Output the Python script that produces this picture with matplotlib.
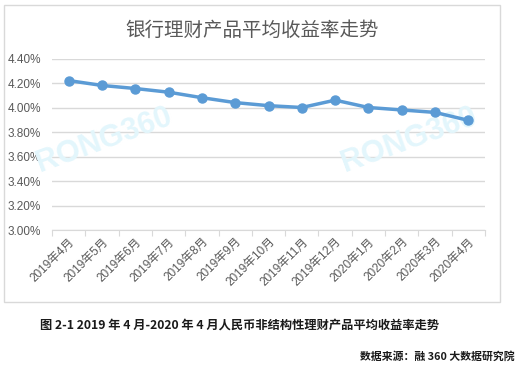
import matplotlib.pyplot as plt
from matplotlib.patches import Rectangle

plt.rcParams['font.family'] = ['Liberation Sans', 'Noto Sans CJK SC', 'DejaVu Sans']

# data
months = ['2019年4月', '2019年5月', '2019年6月', '2019年7月', '2019年8月', '2019年9月',
          '2019年10月', '2019年11月', '2019年12月', '2020年1月', '2020年2月', '2020年3月',
          '2020年4月']
rates = [4.22, 4.18, 4.155, 4.125, 4.08, 4.04, 4.015, 4.00, 4.06, 4.00, 3.98, 3.96, 3.895]
yticks = [3.0, 3.2, 3.4, 3.6, 3.8, 4.0, 4.2, 4.4]

fig = plt.figure(figsize=(5.22, 3.67), dpi=100)

# chart frame
fig.patches.append(Rectangle((4 / 522, 1 - 302 / 367), 496 / 522, 297 / 367,
                             transform=fig.transFigure, fill=False,
                             edgecolor='#d9d9d9', linewidth=1))

ax = fig.add_axes([52 / 522, 1 - 230 / 367, 433 / 522, 171.5 / 367])
ax.patch.set_alpha(0)
x = list(range(len(months)))
ax.plot(x, rates, color='#5b9bd5', linewidth=2.5, marker='o', markersize=6.5, zorder=3)

ax.set_xlim(-0.5, len(months) - 0.5)
ax.set_ylim(3.0, 4.4)
ax.set_yticks(yticks)
ax.set_yticklabels(['%.2f%%' % v for v in yticks])
ax.yaxis.grid(True, color='#d9d9d9', linewidth=1)
ax.set_axisbelow(True)
for s in ['top', 'right', 'left']:
    ax.spines[s].set_visible(False)
ax.spines['bottom'].set_color('#d9d9d9')
ax.tick_params(axis='y', length=0, pad=8, labelsize=8.5, labelcolor='#595959')

ax.set_xticks([i + 0.5 for i in range(-1, len(months))], minor=False)
ax.set_xticklabels([])
ax.tick_params(axis='x', which='major', length=4, color='#d9d9d9')
ax.set_xticks(x, minor=True)
ax.set_xticklabels(months, minor=True, rotation=45, ha='right', rotation_mode='anchor')
ax.tick_params(axis='x', which='minor', length=0, pad=4, labelsize=8.5, labelcolor='#595959')

# watermarks (under the line)
for wx in [104 / 522, 409 / 522]:
    ax.text(wx, 1 - 140 / 367, 'RONG360', fontsize=22, fontweight='bold', color='#e3f6fc',
            rotation=20, ha='center', va='center', zorder=1, transform=fig.transFigure)

fig.text(252 / 522, 1 - 30 / 367, '银行理财产品平均收益率走势', fontsize=14,
         color='#595959', ha='center', va='center', family=['Noto Sans CJK SC'])

fig.text(40 / 522, 1 - 325 / 367,
         '图 2-1 2019 年 4 月-2020 年 4 月人民币非结构性理财产品平均收益率走势',
         fontsize=8.8, fontweight='bold', color='#1a1a1a', ha='left', va='center',
         family=['Noto Sans CJK SC'])
fig.text(515 / 522, 1 - 357 / 367, '数据来源：融 360 大数据研究院', fontsize=7.8,
         fontweight='bold', color='#1a1a1a', ha='right', va='center',
         family=['Noto Sans CJK SC'])

fig.savefig('out.png', dpi=100)
